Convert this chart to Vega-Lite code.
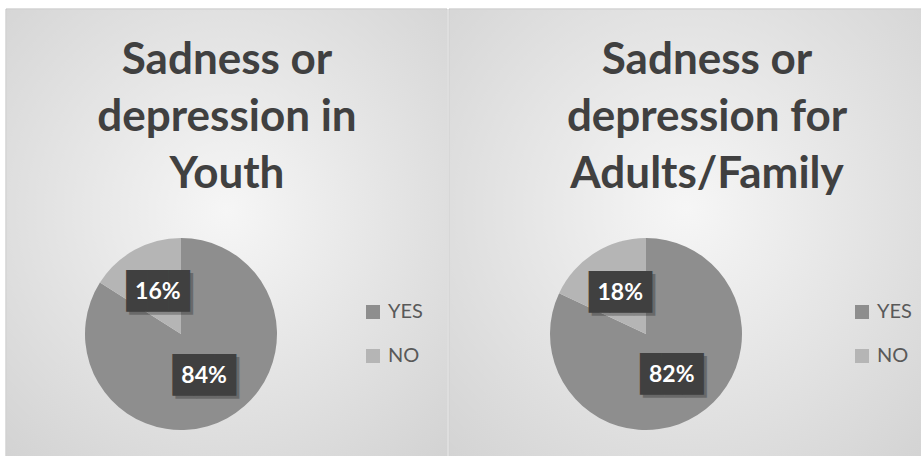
{
  "$schema": "https://vega.github.io/schema/vega-lite/v6.json",
  "padding": {"left": 5, "top": 8, "right": 0, "bottom": 0},
  "spacing": 0,
  "background": "white",
  "datasets": {
    "survey": [
      {"chart": "Youth", "answer": "YES", "pct": 84, "label": "84%"},
      {"chart": "Youth", "answer": "NO", "pct": 16, "label": "16%"},
      {"chart": "Adults", "answer": "YES", "pct": 82, "label": "82%"},
      {"chart": "Adults", "answer": "NO", "pct": 18, "label": "18%"}
    ],
    "titles": [
      {"chart": "Youth", "title": ["Sadness or", "depression in", "Youth"]},
      {"chart": "Adults", "title": ["Sadness or", "depression for", "Adults/Family"]}
    ]
  },
  "config": {
    "font": "Lato",
    "view": {"stroke": null},
    "legend": {"labelFont": "Lato", "labelFontSize": 20, "labelColor": "#595959", "symbolType": "square", "symbolSize": 196, "symbolStrokeWidth": 0, "rowPadding": 24, "padding": 0, "labelOffset": 5}
  },
  "resolve": {"legend": {"color": "independent"}},
  "hconcat": [
    {
      "width": 441,
      "height": 448,
      "layer": [
        {
          "data": {"values": [{}]},
          "mark": {"type": "rect", "x": 0, "y": 0, "x2": "width", "y2": "height", "stroke": "#bdbdbd", "strokeWidth": 1, "fill": "#e3e3e3"},
          "encoding": {}
        },
        {
          "data": {"values": [{}]},
          "mark": {"type": "rect", "x": 0.5, "y": 0.5, "x2": "width", "y2": "height",
            "color": {"gradient": "radial", "x1": 0.5, "y1": 0.45, "r1": 0, "x2": 0.5, "y2": 0.45, "r2": 0.75,
              "stops": [{"offset": 0, "color": "#f6f6f6"}, {"offset": 1, "color": "#d2d2d2"}]}},
          "encoding": {}
        },
        {
          "data": {"name": "titles"},
          "transform": [{"filter": "datum.chart === 'Youth'"}],
          "mark": {"type": "text", "font": "Lato", "fontWeight": "bold", "fontSize": 44, "color": "#404040", "lineHeight": 57, "align": "center", "baseline": "alphabetic", "x": 221, "y": 65},
          "encoding": {"text": {"field": "title"}}
        },
        {
          "data": {"name": "survey"},
          "transform": [{"filter": "datum.chart === 'Youth'"}],
          "encoding": {
            "theta": {"field": "pct", "type": "quantitative", "stack": true},
            "order": {"field": "pct", "sort": "descending"}
          },
          "layer": [
            {
              "mark": {"type": "arc", "radius": 96, "x": 175, "y": 325},
              "encoding": {
                "color": {"field": "answer", "type": "nominal", "scale": {"domain": ["YES", "NO"], "range": ["#8e8e8e", "#b5b5b5"]},
                  "legend": {"title": null, "orient": "none", "legendX": 357, "legendY": 293}}
              }
            },
            {
              "mark": {"type": "text", "text": "███", "font": "DejaVu Sans Mono", "fontSize": 35, "color": "black", "opacity": 0.25, "radius": 48, "x": 178, "y": 328, "baseline": "middle", "align": "center"}
            },
            {
              "mark": {"type": "text", "text": "███", "font": "DejaVu Sans Mono", "fontSize": 35, "color": "#404040", "radius": 48, "x": 175, "y": 325, "baseline": "middle", "align": "center"}
            },
            {
              "mark": {"type": "text", "font": "Lato", "fontWeight": "bold", "fontSize": 23, "color": "white", "radius": 48, "x": 175, "y": 325, "baseline": "middle", "align": "center"},
              "encoding": {"text": {"field": "label"}}
            }
          ]
        }
      ]
    },
    {
      "width": 475,
      "height": 448,
      "layer": [
        {
          "data": {"values": [{}]},
          "mark": {"type": "rect", "x": 0, "y": 0, "x2": "width", "y2": "height", "stroke": "#bdbdbd", "strokeWidth": 1, "fill": "#e3e3e3"},
          "encoding": {}
        },
        {
          "data": {"values": [{}]},
          "mark": {"type": "rect", "x": 0.5, "y": 0.5, "x2": "width", "y2": "height",
            "color": {"gradient": "radial", "x1": 0.5, "y1": 0.45, "r1": 0, "x2": 0.5, "y2": 0.45, "r2": 0.75,
              "stops": [{"offset": 0, "color": "#f6f6f6"}, {"offset": 1, "color": "#d2d2d2"}]}},
          "encoding": {}
        },
        {
          "data": {"name": "titles"},
          "transform": [{"filter": "datum.chart === 'Adults'"}],
          "mark": {"type": "text", "font": "Lato", "fontWeight": "bold", "fontSize": 44, "color": "#404040", "lineHeight": 57, "align": "center", "baseline": "alphabetic", "x": 258, "y": 65},
          "encoding": {"text": {"field": "title"}}
        },
        {
          "data": {"name": "survey"},
          "transform": [{"filter": "datum.chart === 'Adults'"}],
          "encoding": {
            "theta": {"field": "pct", "type": "quantitative", "stack": true},
            "order": {"field": "pct", "sort": "descending"}
          },
          "layer": [
            {
              "mark": {"type": "arc", "radius": 96, "x": 197, "y": 325},
              "encoding": {
                "color": {"field": "answer", "type": "nominal", "scale": {"domain": ["YES", "NO"], "range": ["#8e8e8e", "#b5b5b5"]},
                  "legend": {"title": null, "orient": "none", "legendX": 403, "legendY": 293}}
              }
            },
            {
              "mark": {"type": "text", "text": "███", "font": "DejaVu Sans Mono", "fontSize": 35, "color": "black", "opacity": 0.25, "radius": 48, "x": 200, "y": 328, "baseline": "middle", "align": "center"}
            },
            {
              "mark": {"type": "text", "text": "███", "font": "DejaVu Sans Mono", "fontSize": 35, "color": "#404040", "radius": 48, "x": 197, "y": 325, "baseline": "middle", "align": "center"}
            },
            {
              "mark": {"type": "text", "font": "Lato", "fontWeight": "bold", "fontSize": 23, "color": "white", "radius": 48, "x": 197, "y": 325, "baseline": "middle", "align": "center"},
              "encoding": {"text": {"field": "label"}}
            }
          ]
        }
      ]
    }
  ]
}
